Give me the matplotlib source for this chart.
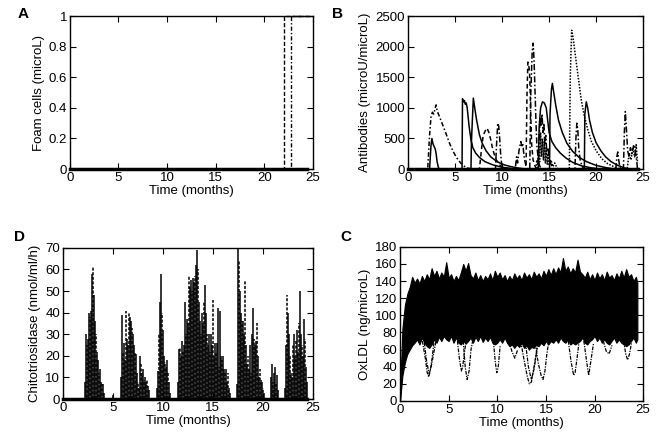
import numpy as np
import matplotlib
matplotlib.use("Agg")
import matplotlib.pyplot as plt

plt.rcParams['font.family'] = ['Liberation Sans', 'DejaVu Sans']
plt.rcParams['font.size'] = 9.5

# ---- A: foam cells (step up late in two runs)
foam_t_flat = [0, 24.4]
foam_y_flat = [0, 0]
foam_t_dash = [0, 22.05, 22.05, 24.4]
foam_y_dash = [0, 0, 1, 1]
foam_t_dashdot = [0, 22.7, 22.7, 24.7]
foam_y_dashdot = [0, 0, 1, 1]

# ---- B: antibody runs, (time, value) knots
ab_curves = [
    ('-', [0, 2.3, 2.45, 2.55, 2.65, 2.75, 2.9, 3.0, 3.1, 3.25, 3.4, 24.4],
          [0, 0, 380, 500, 420, 380, 330, 250, 120, 20, 0, 0]),
    ((0, (3, 1.5, 1, 1.5)), [0, 2.1, 2.3, 2.45, 2.6, 2.75, 2.9, 3.0, 3.1, 3.3, 3.6, 4.0, 4.4, 4.8, 5.2, 5.6, 6.0, 6.4, 6.8, 24.4],
          [0, 0, 550, 850, 930, 900, 1000, 1050, 950, 880, 760, 600, 430, 290, 180, 100, 45, 15, 0, 0]),
    ('-', [0, 5.75, 5.8, 5.9, 6.0, 6.1, 6.2, 6.3, 6.5, 6.7, 6.9, 7.2, 7.6, 8.2, 9.0, 10.0, 11.0, 12.0, 24.4],
          [0, 0, 1150, 1100, 1120, 1060, 1080, 1000, 700, 480, 350, 260, 190, 120, 70, 30, 10, 0, 0]),
    ('-', [0, 6.7, 6.75, 6.95, 7.1, 7.3, 7.6, 7.9, 8.3, 8.8, 9.4, 10.0, 10.8, 11.6, 12.5, 24.4],
          [0, 0, 450, 1160, 1000, 800, 560, 420, 300, 200, 130, 80, 45, 20, 0, 0]),
    ((0, (3, 2)), [0, 7.6, 7.8, 8.0, 8.2, 8.4, 8.6, 8.8, 9.0, 9.3, 9.6, 10.0, 10.5, 24.4],
          [0, 0, 300, 550, 620, 670, 600, 480, 330, 180, 90, 30, 0, 0]),
    ((0, (4, 1.5, 1, 1.5)), [0, 9.3, 9.45, 9.55, 9.65, 9.75, 9.85, 9.95, 10.1, 24.4],
          [0, 0, 500, 750, 700, 500, 250, 100, 0, 0]),
    ((0, (4, 1.5, 1, 1.5)), [0, 11.4, 11.55, 11.65, 11.8, 12.0, 12.1, 12.2, 12.35, 12.5, 12.6, 24.4],
          [0, 0, 200, 100, 300, 450, 380, 420, 200, 80, 0, 0]),
    ((0, (3, 2)), [0, 12.55, 12.65, 12.75, 12.85, 12.95, 13.05, 13.15, 13.3, 13.5, 13.7, 24.4],
          [0, 0, 1200, 1750, 1700, 1500, 900, 400, 150, 50, 0, 0]),
    ((0, (4, 1.5, 1, 1.5)), [0, 12.95, 13.05, 13.2, 13.3, 13.4, 13.5, 13.6, 13.7, 13.85, 14.0, 14.2, 24.4],
          [0, 0, 1200, 1900, 2060, 1800, 1300, 800, 400, 150, 50, 0, 0]),
    ((0, (4, 1.5, 1, 1.5)), [0, 13.8, 13.95, 14.05, 14.15, 14.25, 14.35, 14.45, 14.55, 14.65, 14.75, 14.9, 15.0, 15.2, 15.5, 24.4],
          [0, 0, 500, 850, 700, 900, 600, 750, 400, 550, 300, 350, 150, 80, 0, 0]),
    ('-', [0, 13.85, 13.95, 14.1, 14.3, 14.5, 14.7, 14.85, 15.0, 15.3, 15.7, 16.2, 16.8, 17.5, 18.5, 19.5, 20.5, 24.4],
          [0, 0, 700, 1000, 1100, 1080, 1000, 800, 600, 450, 350, 260, 180, 110, 50, 20, 0, 0]),
    ('-', [0, 15.05, 15.1, 15.25, 15.35, 15.5, 15.7, 16.0, 16.4, 16.9, 17.5, 18.2, 19.0, 20.0, 21.0, 22.0, 24.4],
          [0, 0, 900, 1300, 1400, 1250, 1050, 800, 600, 420, 290, 190, 120, 60, 25, 0, 0]),
    ((0, (1, 1)), [0, 17.15, 17.25, 17.4, 17.55, 17.8, 18.1, 18.4, 18.7, 19.1, 19.5, 20.0, 20.6, 21.2, 22.0, 22.5, 24.4],
          [0, 0, 1500, 2270, 2150, 1850, 1500, 1150, 900, 650, 450, 300, 170, 90, 30, 0, 0]),
    ((0, (4, 1.5, 1, 1.5)), [0, 17.75, 17.85, 17.95, 18.05, 18.15, 18.3, 18.5, 18.7, 24.4],
          [0, 0, 500, 750, 650, 350, 150, 50, 0, 0]),
    ('-', [0, 18.75, 18.8, 18.95, 19.1, 19.3, 19.6, 20.0, 20.5, 21.0, 21.6, 22.3, 23.0, 23.5, 24.4],
          [0, 0, 900, 1100, 1000, 800, 600, 430, 300, 200, 120, 60, 20, 0, 0]),
    ((0, (4, 1.5, 1, 1.5)), [0, 22.1, 22.2, 22.3, 22.4, 22.5, 22.6, 22.9, 23.0, 23.1, 23.2, 23.35, 23.5, 23.65, 23.8, 24.0, 24.15, 24.3, 24.4],
          [0, 0, 200, 280, 150, 50, 0, 0, 600, 940, 700, 300, 200, 350, 250, 400, 300, 150, 0]),
    ((0, (1, 1)), [0, 23.3, 23.5, 23.7, 23.9, 24.1, 24.25, 24.4],
          [0, 0, 250, 150, 350, 200, 400, 100]),
    ((0, (1, 1)), [0, 13.6, 13.7, 13.8, 13.9, 14.0, 14.1, 14.2, 14.3, 14.4, 14.5, 14.6, 14.7, 14.8, 14.9, 15.0, 15.2, 15.4, 15.6, 15.9, 24.4],
          [0, 0, 150, 80, 300, 120, 600, 200, 500, 150, 450, 100, 350, 80, 250, 60, 150, 40, 100, 0, 0]),
]

# ---- D: chitotriosidase spikes, clusters (start time, heights every 0.1 month)
chito_clusters = [
    (2.2, [8, 30, 25, 28, 40, 38, 41, 58, 61, 48, 36, 30, 22, 18, 12, 14, 8, 7, 7, 3]),
    (5.0, [2]),
    (5.8, [10, 39, 22, 26, 18, 41, 28, 25, 40, 38, 36, 33, 30, 25, 22, 21, 12, 8, 5, 20,
           16, 12, 14, 9, 10, 8, 9, 6, 4]),
    (9.4, [5, 13, 30, 45, 58, 40, 32, 20, 17, 15, 18, 12, 8, 3]),
    (11.5, [8, 23, 24, 20, 27, 22, 25, 45, 30, 37, 35, 57, 52, 55, 50, 56, 54, 57, 62, 69,
            60, 45, 36, 30, 40, 35, 45, 53, 40, 30, 25, 30, 22, 30, 25, 46, 20, 26, 22, 26,
            42, 15, 41, 20, 18, 20, 14, 12, 14, 8, 12, 5, 3]),
    (17.4, [7, 70, 64, 50, 40, 36, 36, 30, 55, 25, 16, 20, 14, 25, 12, 30, 42, 28, 25, 27,
            35, 20, 10, 14, 9, 8, 5, 3]),
    (20.8, [10, 16, 8, 12, 15, 7, 11, 4]),
    (22.2, [5, 25, 48, 40, 30, 20, 12, 10, 25, 30, 20, 27, 32, 22, 35, 50, 30, 25, 20, 37,
            28, 15, 8]),
]

# ---- C: OxLDL band, upper / lower edge every 0.25 month
oxldl_hi = [10, 85, 112, 125, 133, 145, 138, 143,
            137, 146, 140, 148, 142, 155, 146, 152,
            143, 150, 145, 162, 144, 148, 140, 146,
            141, 150, 160, 152, 161, 147, 143, 150,
            141, 147, 140, 146, 142, 149, 141, 152,
            145, 150, 142, 147, 140, 146, 141, 149,
            143, 147, 141, 150, 144, 148, 142, 151,
            145, 149, 143, 152, 146, 154, 147, 155,
            148, 156, 150, 167, 152, 157, 149, 155,
            150, 165, 151, 148, 144, 151, 142, 148,
            141, 150, 143, 148, 141, 151, 144, 147,
            141, 149, 143, 152, 144, 154, 145, 148,
            140, 145, 138]
oxldl_lo = [0, 30, 45, 55, 60, 65, 68, 72,
            66, 74, 68, 64, 62, 66, 72, 68,
            75, 70, 76, 72, 70, 76, 68, 74,
            68, 66, 70, 67, 70, 74, 68, 75,
            70, 76, 69, 74, 70, 75, 68, 66,
            68, 72, 68, 74, 68, 64, 66, 62,
            66, 63, 68, 62, 65, 60, 63, 62,
            66, 64, 68, 65, 70, 66, 70, 68,
            72, 68, 74, 70, 68, 72, 66, 68,
            66, 68, 70, 74, 68, 66, 70, 72,
            76, 70, 74, 68, 72, 68, 66, 70,
            74, 68, 72, 68, 66, 64, 66, 70,
            74, 68, 72]
oxldl_dips = [
    ([2.3, 2.6, 2.8, 2.95, 3.1, 3.3, 3.5], [70, 50, 33, 28, 35, 50, 70]),
    ([2.5, 2.75, 3.0, 3.2, 3.45, 3.7], [68, 45, 32, 40, 55, 70]),
    ([5.9, 6.1, 6.3, 6.45, 6.6, 6.8], [70, 50, 35, 40, 55, 70]),
    ([6.5, 6.7, 6.9, 7.1, 7.3, 7.5], [70, 40, 25, 35, 60, 72]),
    ([9.6, 9.8, 9.95, 10.1, 10.3], [70, 45, 33, 40, 65]),
    ([11.2, 11.5, 11.8, 12.1], [70, 58, 50, 60]),
    ([12.4, 12.8, 13.1, 13.3, 13.5, 13.7, 14.0, 14.2], [70, 45, 28, 20, 22, 35, 55, 70]),
    ([12.9, 13.2, 13.5, 13.8, 14.1], [68, 40, 25, 38, 62]),
    ([13.9, 14.2, 14.5, 14.7, 14.9, 15.1, 15.3], [68, 45, 30, 25, 35, 55, 70]),
    ([17.3, 17.6, 17.85, 18.0, 18.2, 18.4], [70, 45, 30, 33, 50, 68]),
    ([18.9, 19.2, 19.4, 19.6, 19.9], [70, 45, 30, 45, 68]),
    ([20.9, 21.2, 21.5, 21.8], [70, 58, 55, 65]),
    ([23.0, 23.2, 23.4, 23.6, 23.8], [70, 55, 48, 55, 68]),
]

months = [0, 5, 10, 15, 20, 25]

fig = plt.figure(figsize=(6.59, 4.38), dpi=100)
axA = fig.add_axes([0.106, 0.614, 0.369, 0.349])
axB = fig.add_axes([0.619, 0.614, 0.357, 0.349])
axD = fig.add_axes([0.0956, 0.089, 0.379, 0.345])
axC = fig.add_axes([0.607, 0.0845, 0.369, 0.352])

for ax in (axA, axB, axC, axD):
    ax.set_xlim(0, 25)
    ax.set_xticks(months)
    ax.set_xlabel('Time (months)', labelpad=1)
    ax.tick_params(direction='in', length=4, top=True, right=True, pad=2)
    for s in ax.spines.values():
        s.set_linewidth(1.0)

# A
axA.plot(foam_t_flat, foam_y_flat, color='black', lw=2.5, clip_on=False)
axA.plot(foam_t_dash, foam_y_dash, color='black', lw=1, ls=(0, (3, 1.5)), clip_on=False)
axA.plot(foam_t_dashdot, foam_y_dashdot, color='black', lw=1, ls=(0, (3, 1.5, 1, 1.5)), clip_on=False)
axA.set_ylim(0, 1)
axA.set_yticks([0, 0.2, 0.4, 0.6, 0.8, 1])
axA.set_yticklabels(['0', '0.2', '0.4', '0.6', '0.8', '1'])
axA.set_ylabel('Foam cells (microL)', labelpad=3)

# B
for ls, t, y in ab_curves:
    axB.plot(t, y, color='black', lw=1.1, ls=ls)
axB.plot([0, 24.4], [0, 0], color='black', lw=2.5, clip_on=False)
axB.set_ylim(0, 2500)
axB.set_yticks([0, 500, 1000, 1500, 2000, 2500])
axB.set_ylabel('Antibodies (microU/microL)', labelpad=3)

# D  (solid runs mixed with dotted ones, offsets staggered)
for start, heights in chito_clusters:
    t = start + 0.1 * np.arange(len(heights))
    styles = []
    for i in range(len(heights)):
        if i % 3 == 2:
            styles.append((i % 4, (2, 1)))
        else:
            styles.append('-')
    axD.vlines(t, 0, heights, colors='black', linewidth=1.1, linestyles=styles)
axD.plot([0, 24.4], [0, 0], color='black', lw=2.5, clip_on=False)
axD.set_ylim(0, 70)
axD.set_yticks(range(0, 71, 10))
axD.set_ylabel('Chitotriosidase (nmol/ml/h)', labelpad=3)

# C
tc = 0.25 * np.arange(len(oxldl_hi))
tc[-1] = 24.4
axC.fill_between(tc, oxldl_lo, oxldl_hi, color='black', lw=0.8, edgecolor='black')
for t, y in oxldl_dips:
    axC.plot(t, y, color='black', lw=0.9, ls=(0, (3, 1, 1, 1)))
axC.set_ylim(0, 180)
axC.set_yticks(range(0, 181, 20))
axC.set_ylabel('OxLDL (ng/microL)', labelpad=3)

for x, y, s in [(0.026, 0.968, 'A'), (0.504, 0.968, 'B'), (0.021, 0.459, 'D'), (0.516, 0.459, 'C')]:
    fig.text(x, y, s, fontweight='bold', fontsize=11, ha='left', va='center')

fig.savefig('out.png', dpi=100)
